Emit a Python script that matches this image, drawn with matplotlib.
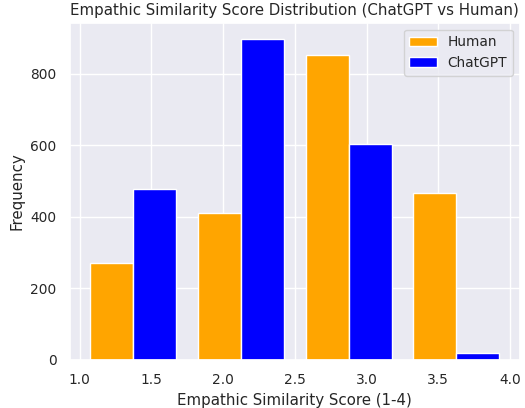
import matplotlib
matplotlib.use('Agg')
import matplotlib.pyplot as plt
import numpy as np
import seaborn as sns

sns.set_theme(style='darkgrid', font_scale=0.9)

# bin edges of the score histogram and counts
bins = [1.0, 1.75, 2.5, 3.25, 4.0]
centers = [1.375, 2.125, 2.875, 3.625]
human = [272, 410, 852, 467]
chatgpt = [478, 898, 605, 20]

fig, ax = plt.subplots(figsize=(5.25, 4.08), dpi=100)
fig.subplots_adjust(left=0.133, right=0.990, top=0.944, bottom=0.118)

ax.hist([centers, centers], bins=bins, weights=[human, chatgpt],
        color=['orange', 'blue'], label=['Human', 'ChatGPT'], rwidth=0.8)

ax.set_title('Empathic Similarity Score Distribution (ChatGPT vs Human)')
ax.set_xlabel('Empathic Similarity Score (1-4)')
ax.set_ylabel('Frequency')
ax.legend(loc='upper right')

plt.savefig('out.png', dpi=100)
